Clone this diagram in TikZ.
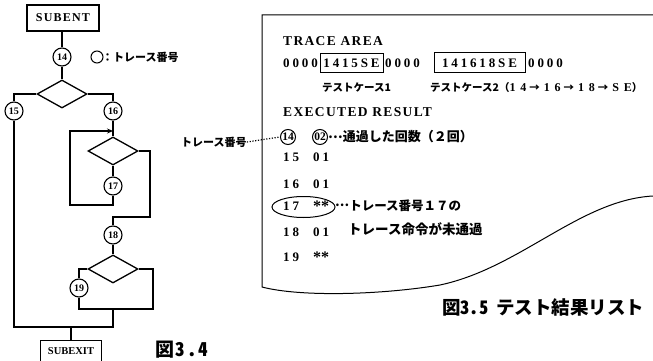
\documentclass[tikz,border=0pt]{standalone}
\usepackage{fontspec}
\setmainfont{Liberation Serif}
\newfontfamily\jp{Noto Sans CJK JP}
\newfontfamily\jpcap{Noto Sans CJK JP}[LetterSpace=9,RawFeature={+hwid}]
\newfontfamily\jpcapb{Noto Sans CJK JP}[RawFeature={+hwid}]
\newfontfamily\lsp{Liberation Serif}[LetterSpace=10]
\newfontfamily\lspw{Liberation Serif}[LetterSpace=22]
\newfontfamily\lspx{Liberation Serif}[LetterSpace=40]
\usetikzlibrary{shapes.geometric,arrows.meta}
\newcommand{\lowstar}{\raisebox{-4.5pt}{\fontsize{16}{16}\selectfont *}}
\newcommand{\middots}{\raisebox{3.8pt}{…}}
\newcommand{\tcd}[1]{{\fontsize{12}{12}\selectfont\lspx #1}}
\tikzset{
  flow/.style={line width=1.3pt},
  trc/.style={circle,draw,line width=1.1pt,inner sep=0pt,minimum size=18pt,font=\fontsize{10}{10}\selectfont\bfseries},
  rtrc/.style={circle,draw,line width=1pt,inner sep=0pt,minimum size=15pt,font=\fontsize{11.5}{11.5}\selectfont\bfseries},
  dec/.style={diamond,draw,line width=1.3pt,inner sep=0pt,minimum width=50pt,minimum height=28pt},
  term/.style={rectangle,draw,line width=1.3pt,inner sep=0pt},
  mono/.style={anchor=west,inner sep=0pt,font=\fontsize{13}{13}\selectfont\bfseries\lspw},
  head/.style={anchor=west,inner sep=0pt,font=\fontsize{13.5}{13.5}\selectfont\bfseries\lsp},
  jtxt/.style={anchor=west,inner sep=0pt,font=\fontsize{12.5}{12.5}\selectfont\jp\bfseries},
  figcap/.style={anchor=west,inner sep=0pt,font=\fontsize{19}{19}\selectfont\jpcap\bfseries},
}
\begin{document}
\begin{tikzpicture}[x=1pt,y=-1pt]
\useasboundingbox (0,0) rectangle (653,361);
\fill[white] (0,0) rectangle (653,361);

% ---------- flowchart (Fig 3.4) ----------
\node[term,minimum width=72pt,minimum height=26pt,font=\fontsize{12}{12}\selectfont\bfseries\lsp] (ent) at (63,18) {SUBENT};
\node[trc] (c14) at (62,57) {14};
\node[dec] (d1) at (62,94) {};
\node[trc] (c15) at (14,111) {15};
\node[trc] (c16) at (113,111) {16};
\node[dec] (d2) at (113,151) {};
\node[trc] (c17) at (113,186) {17};
\node[trc] (c18) at (113,235) {18};
\node[dec] (d3) at (113,269) {};
\node[trc] (c19) at (79,288) {19};
\node[term,minimum width=61pt,minimum height=21pt,font=\fontsize{10.5}{10.5}\selectfont\bfseries] (ext) at (71,351) {SUBEXIT};

\coordinate (l1) at (70,205);
\coordinate (l2) at (70,131);
\coordinate (m2) at (113,131);
\coordinate (r2) at (150,217);
\coordinate (b3) at (153,309);
\coordinate (m3) at (113,309);
\coordinate (j1) at (14,327);
\coordinate (j2) at (71,327);

\draw[flow] (ent.south -| c14) -- (c14);
\draw[flow] (c14) -- (d1.north);
\draw[flow] (d1.west) -| (c15.north);
\draw[flow] (d1.east) -| (c16.north);
\draw[flow] (c16) -- (d2.north);
\draw[flow] (d2.south) -- (c17);
\draw[flow,-{Stealth[length=6pt,width=5pt]}] (c17.south) |- (l1) -- (l2) -- (m2);
\draw[flow] (d2.east) -| (r2) -| (c18.north);
\draw[flow] (c18) -- (d3.north);
\draw[flow] (d3.west) -| (c19.north);
\draw[flow] (c19.south) |- (b3) |- (d3.east);
\draw[flow] (m3) |- (j1) -- (c15.south);
\draw[flow] (j2) -- (ext.north);

% legend
\node[circle,draw,line width=1pt,minimum size=12pt,inner sep=0pt] (lc) at (97,57) {};
\node[anchor=west,inner sep=0pt,font=\fontsize{11}{11}\selectfont\jp\bfseries] (lt) at (102,57) {：トレース番号};

\node[figcap] (f34) at (155,350) {図3.4};

% ---------- trace list (Fig 3.5) ----------
\draw[line width=1pt] (653,15) -- (262,15) -- (262,287)
  .. controls (300,297) and (380,295) .. (440,285)
  .. controls (520,268) and (580,200) .. (653,196);

\node[head] (ta) at (283,41) {TRACE AREA};
\node[mono] (z1) at (283,63) {0000};
\node[term,line width=1pt,minimum width=63pt,minimum height=19pt,font=\fontsize{13}{13}\selectfont\bfseries\lspw] (tc1) at (351.5,63.5) {1415SE};
\node[mono] (z2) at (385,63) {0000};
\node[term,line width=1pt,minimum width=91pt,minimum height=20pt,font=\fontsize{13}{13}\selectfont\bfseries\lspw] (tc2) at (479.5,63) {141618SE};
\node[mono] (z3) at (528,63) {0000};

\node[anchor=west,inner sep=0pt,font=\fontsize{10.5}{10.5}\selectfont\jp\bfseries] (tl1) at (322,88) {テストケース1};
\node[anchor=west,inner sep=0pt,font=\fontsize{10.5}{10.5}\selectfont\jp\bfseries] (tl2) at (430,88) {テストケース2（\tcd{14}\hspace{3pt}→\hspace{4pt}\tcd{16}\hspace{3pt}→\hspace{4pt}\tcd{18}\hspace{3pt}→\hspace{4pt}\tcd{SE}）};

\node[head] (er) at (283,112) {EXECUTED RESULT};

\node[rtrc] (r14) at (288,137) {14};
\node[rtrc] (r02) at (320,137) {02};
\node[jtxt,font=\fontsize{13}{13}\selectfont\jp\bfseries] (n14) at (328,137) {\middots 通過した回数（２回）};

\node[mono] (a15) at (283,157) {15};
\node[mono] (b15) at (313,157) {01};
\node[mono] (a16) at (283,184) {16};
\node[mono] (b16) at (313,184) {01};
\node[mono] (a17) at (283,206) {17};
\node[mono] (b17) at (313,206) {\lowstar\lowstar};
\node[ellipse,draw,line width=1pt,minimum width=63pt,minimum height=21pt,inner sep=0pt] (e17) at (303.5,207) {};
\node[jtxt] (n17) at (335,206) {\middots トレース番号１７の};
\node[mono] (a18) at (283,232) {18};
\node[mono] (b18) at (313,232) {01};
\node[jtxt,font=\fontsize{13.5}{13.5}\selectfont\jp\bfseries] (n18) at (348,229) {トレース命令が未通過};
\node[mono] (a19) at (283,257) {19};
\node[mono] (b19) at (313,257) {\lowstar\lowstar};

\node[anchor=west,inner sep=0pt,font=\fontsize{11}{11}\selectfont\jp\bfseries] (lab) at (181,142) {トレース番号};
\draw[line width=1.2pt,dash pattern=on 1.2pt off 1.6pt] (lab.east) -- (r14.west);

\node[anchor=west,inner sep=0pt,font=\fontsize{18.5}{18.5}\selectfont\jpcapb\bfseries] (f35) at (442,307) {図3.5\hspace{8pt}テスト結果リスト};
\end{tikzpicture}
\end{document}
